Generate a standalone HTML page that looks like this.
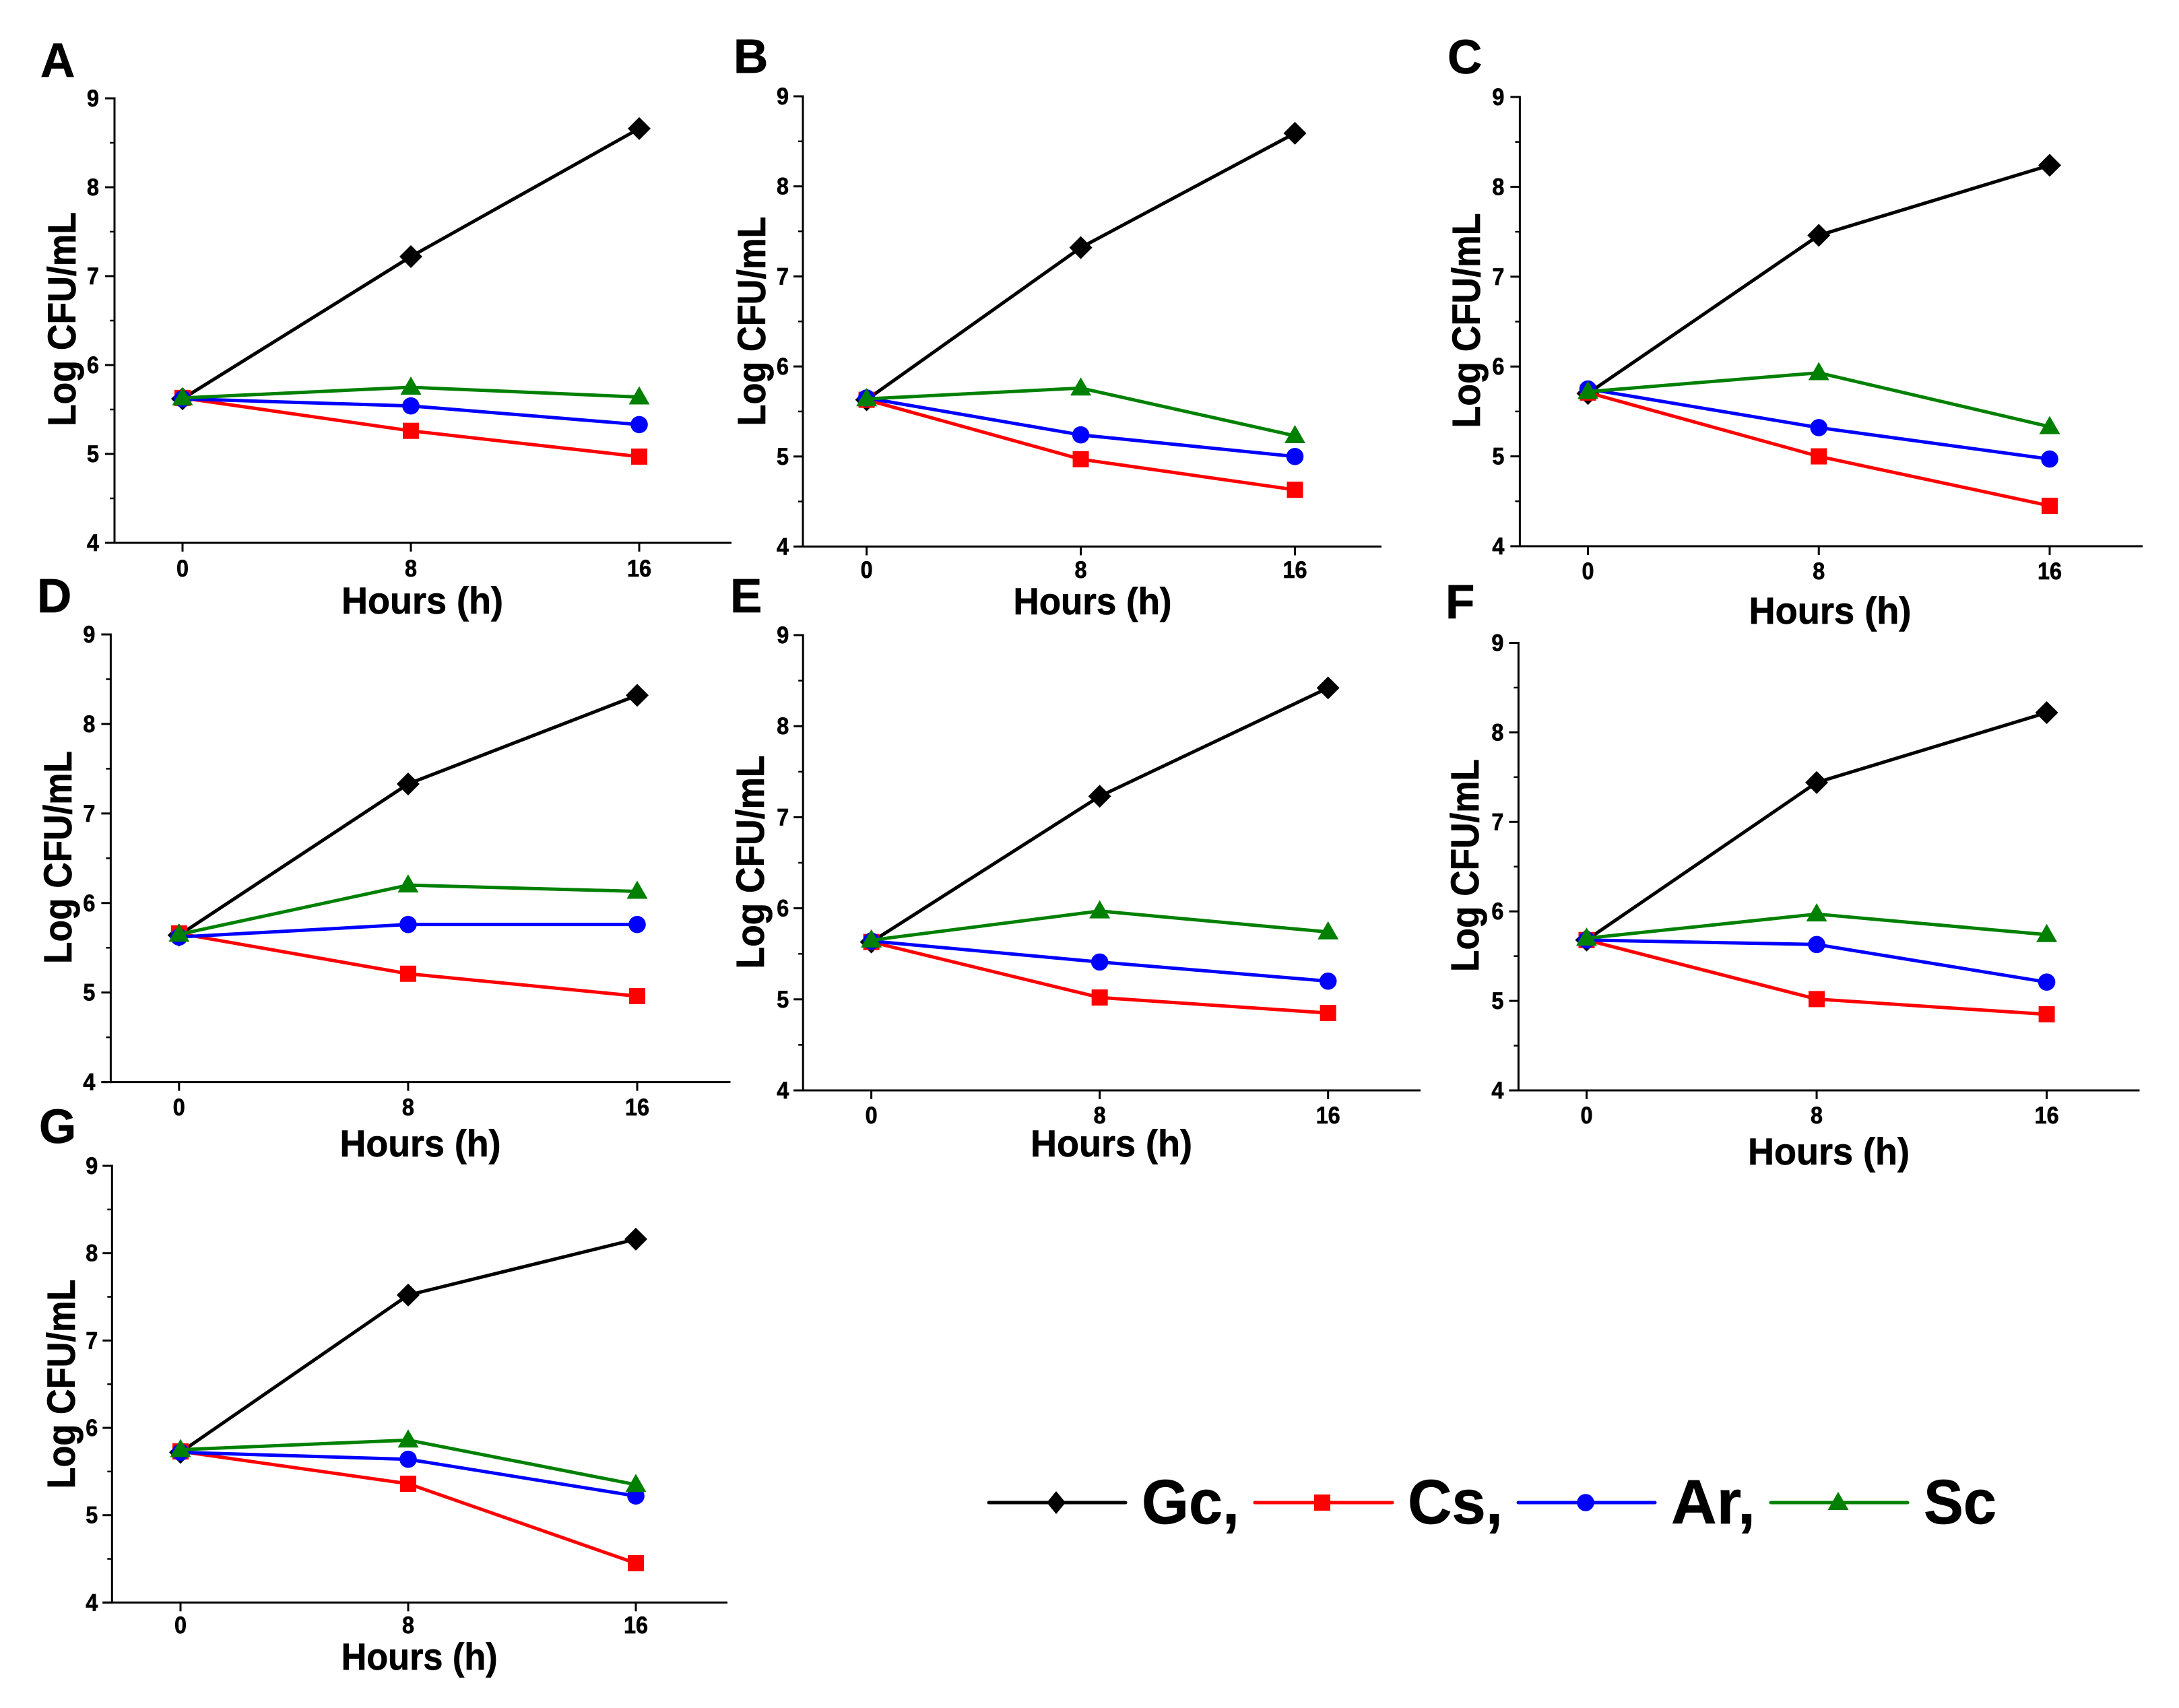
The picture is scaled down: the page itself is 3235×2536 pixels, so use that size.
<!DOCTYPE html>
<html lang="en">
<head>
<meta charset="utf-8">
<title>Log CFU/mL over time, panels A to G</title>
<style>
html,body{margin:0;padding:0;background:#fff;}
svg{display:block;}
text{font-family:"Liberation Sans",Arial,sans-serif;font-weight:bold;fill:#000;stroke:#000;stroke-width:0.7px;}
</style>
</head>
<body>
<svg id="figure" xmlns="http://www.w3.org/2000/svg" width="3235" height="2536" viewBox="0 0 3235 2536">
<rect x="0" y="0" width="3235" height="2536" fill="#fff"/>
</svg>
<script>
// Shared axis data
const hours = [0, 8, 16];
const hourLabels = ["0", "8", "16"];
const yTicks = [4, 5, 6, 7, 8, 9];
const yMinorTicks = [4.5, 5.5, 6.5, 7.5, 8.5];
const xAxisTitle = "Hours (h)";
const yAxisTitle = "Log CFU/mL";

// Series values, one array per panel and series
const gcA = [5.62, 7.22, 8.66];
const csA = [5.63, 5.26, 4.97];
const arA = [5.62, 5.54, 5.33];
const scA = [5.63, 5.75, 5.64];

const gcB = [5.63, 7.32, 8.59];
const csB = [5.63, 4.97, 4.63];
const arB = [5.65, 5.24, 5.00];
const scB = [5.64, 5.76, 5.23];

const gcC = [5.70, 7.46, 8.24];
const csC = [5.71, 5.00, 4.45];
const arC = [5.75, 5.32, 4.97];
const scC = [5.72, 5.93, 5.33];

const gcD = [5.64, 7.33, 8.32];
const csD = [5.66, 5.21, 4.96];
const arD = [5.62, 5.76, 5.76];
const scD = [5.65, 6.20, 6.13];

const gcE = [5.63, 7.23, 8.42];
const csE = [5.63, 5.02, 4.85];
const arE = [5.64, 5.41, 5.20];
const scE = [5.65, 5.97, 5.74];

const gcF = [5.68, 7.44, 8.22];
const csF = [5.68, 5.02, 4.85];
const arF = [5.68, 5.63, 5.21];
const scF = [5.70, 5.97, 5.74];

const gcG = [5.72, 7.52, 8.16];
const csG = [5.73, 5.36, 4.45];
const arG = [5.72, 5.64, 5.22];
const scG = [5.75, 5.86, 5.35];

const panelNames = ["A", "B", "C", "D", "E", "F", "G"];
const seriesNames = ["Gc", "Cs", "Ar", "Sc"];
const panelValues = {
  A: [gcA, csA, arA, scA],
  B: [gcB, csB, arB, scB],
  C: [gcC, csC, arC, scC],
  D: [gcD, csD, arD, scD],
  E: [gcE, csE, arE, scE],
  F: [gcF, csF, arF, scF],
  G: [gcG, csG, arG, scG]
};

// Styles per series
const seriesStyle = {
  Gc: {color: "#000000", marker: "diamond"},
  Cs: {color: "#ff0000", marker: "square"},
  Ar: {color: "#0000ff", marker: "circle"},
  Sc: {color: "#008000", marker: "triangle"}
};

// Panel geometry (layout only)
const layout = {
  A: {lx:60,   ly:114,  ax:170,  top:146, bot:806,  x0:271,  x16:949,  xEnd:1086, gap:23, tb:856,  ylx:112,  ylc:474,  yll:318, hc:627,  hb:911,  hl:240},
  B: {lx:1089, ly:108,  ax:1192, top:143, bot:811.5,x0:1286.6,x16:1922.5,xEnd:2051,gap:21, tb:858,  ylx:1136, ylc:477,  yll:311, hc:1622, hb:912,  hl:235},
  C: {lx:2149, ly:109,  ax:2256.4,top:144,bot:811,  x0:2357.5,x16:3043, xEnd:3181, gap:23, tb:860,  ylx:2197, ylc:476,  yll:319, hc:2717, hb:926,  hl:241},
  D: {lx:55,   ly:909,  ax:164.4,top:942, bot:1606.6,x0:265.8,x16:946, xEnd:1084.5,gap:23,tb:1656, ylx:106,  ylc:1273, yll:316, hc:624,  hb:1717, hl:239},
  E: {lx:1084, ly:909,  ax:1192.2,top:943,bot:1619, x0:1293.6,x16:1971.7,xEnd:2109,gap:21, tb:1668, ylx:1134, ylc:1280, yll:317, hc:1650, hb:1717, hl:240},
  F: {lx:2146, ly:918,  ax:2254.4,top:954.5,bot:1619,x0:2355.5,x16:3038.6,xEnd:3176.5,gap:22,tb:1668,ylx:2195,ylc:1285,yll:316, hc:2715, hb:1729, hl:240},
  G: {lx:58,   ly:1697, ax:166.3,top:1731,bot:2379.4,x0:268,  x16:944,  xEnd:1080, gap:21, tb:2425, ylx:111,  ylc:2055, yll:311, hc:622.6,hb:2479, hl:232}
};

const SVGNS = "http://www.w3.org/2000/svg";
const figure = document.getElementById("figure");

function make(tag, attrs, parent, content) {
  const el = document.createElementNS(SVGNS, tag);
  for (const k in attrs) el.setAttribute(k, attrs[k]);
  if (content !== undefined) el.textContent = content;
  parent.appendChild(el);
  return el;
}

function drawMarker(kind, cx, cy, color, parent, diamondHalfWidth) {
  if (kind === "diamond") {
    const hw = diamondHalfWidth || 17;
    return make("polygon", {points: [cx,cy-17, cx+hw,cy, cx,cy+17, cx-hw,cy].join(","), fill: color}, parent);
  }
  if (kind === "square") {
    return make("rect", {x: cx-12, y: cy-12, width: 24, height: 24, fill: color}, parent);
  }
  if (kind === "circle") {
    return make("circle", {cx: cx, cy: cy, r: 12.8, fill: color}, parent);
  }
  return make("polygon", {points: [cx,cy-16, cx+15.5,cy+11, cx-15.5,cy+11].join(","), fill: color}, parent);
}

function drawPanel(name) {
  const g = layout[name];
  const values = panelValues[name];
  const xScale = h => g.x0 + (h - hours[0]) / (hours[hours.length-1] - hours[0]) * (g.x16 - g.x0);
  const yScale = v => g.bot - (v - yTicks[0]) / (yTicks[yTicks.length-1] - yTicks[0]) * (g.bot - g.top);

  const panel = make("g", {}, figure);
  
  

  const letter = make("text", {x: g.lx, y: g.ly, "font-size": 71}, panel, name);
  
  

  const yAxis = make("line", {x1: g.ax, y1: g.top - 1.5, x2: g.ax, y2: g.bot + 1.5, stroke: "#000", "stroke-width": 3}, panel);
  
  

  const xAxis = make("line", {x1: g.ax - 14, y1: g.bot, x2: g.xEnd, y2: g.bot, stroke: "#000", "stroke-width": 3}, panel);
  
  

  yTicks.forEach(t => {
    const y = yScale(t);
    const tick = make("line", {x1: g.ax - 14, y1: y, x2: g.ax, y2: y, stroke: "#000", "stroke-width": 3}, panel);
    
    
    const label = make("text", {x: g.ax - g.gap, y: y + 12, "font-size": 35, "text-anchor": "end", textLength: 18, lengthAdjust: "spacingAndGlyphs"}, panel, String(t));
    
    
  });

  yMinorTicks.forEach(t => {
    const y = yScale(t);
    const tick = make("line", {x1: g.ax - 7, y1: y, x2: g.ax, y2: y, stroke: "#000", "stroke-width": 2.5}, panel);
    
    
  });

  hours.forEach((h, i) => {
    const x = xScale(h);
    const tick = make("line", {x1: x, y1: g.bot, x2: x, y2: g.bot + 13, stroke: "#000", "stroke-width": 3}, panel);
    
    
    const label = make("text", {x: x, y: g.tb, "font-size": 35, "text-anchor": "middle", textLength: 18 * hourLabels[i].length, lengthAdjust: "spacingAndGlyphs"}, panel, hourLabels[i]);
    
    
  });

  const xTitle = make("text", {x: g.hc, y: g.hb, "font-size": 56, "text-anchor": "middle", textLength: g.hl, lengthAdjust: "spacingAndGlyphs"}, panel, xAxisTitle);
  
  

  const yTitle = make("text", {x: 0, y: 0, "font-size": 58, "text-anchor": "middle", textLength: g.yll, lengthAdjust: "spacingAndGlyphs", transform: "translate(" + g.ylx + "," + g.ylc + ") rotate(-90)"}, panel, yAxisTitle);
  
  

  seriesNames.forEach((s, si) => {
    const style = seriesStyle[s];
    const vals = values[si];
    const group = make("g", {}, panel);
    
    

    const pts = vals.map((v, i) => xScale(hours[i]) + "," + yScale(v)).join(" ");
    const line = make("polyline", {points: pts, fill: "none", stroke: style.color, "stroke-width": 5, "stroke-linejoin": "round"}, group);
    
    

    vals.forEach((v, i) => {
      const mark = drawMarker(style.marker, xScale(hours[i]), yScale(v), style.color, group);
      
      
    });
  });
}

panelNames.forEach(drawPanel);

// Legend
const legendLabels = ["Gc,", "Cs,", "Ar,", "Sc"];
const legendLayout = [
  {x1:1468, x2:1671, mx:1568, tx:1695, tl:145},
  {x1:1863, x2:2067, mx:1963, tx:2090, tl:141},
  {x1:2254, x2:2457, mx:2354, tx:2481, tl:125},
  {x1:2629, x2:2832, mx:2729, tx:2856, tl:108}
];
const legend = make("g", {}, figure);



seriesNames.forEach((s, i) => {
  const style = seriesStyle[s];
  const p = legendLayout[i];
  const entry = make("g", {}, legend);
  
  

  const swatch = make("line", {x1: p.x1, y1: 2231, x2: p.x2, y2: 2231, stroke: style.color, "stroke-width": 5, "stroke-linecap": "round"}, entry);
  
  

  const mark = drawMarker(style.marker, p.mx, 2231, style.color, entry, 14);
  
  

  const label = make("text", {x: p.tx, y: 2262, "font-size": 93, textLength: p.tl, lengthAdjust: "spacingAndGlyphs"}, entry, legendLabels[i]);
  
  
});
</script>
</body>
</html>
